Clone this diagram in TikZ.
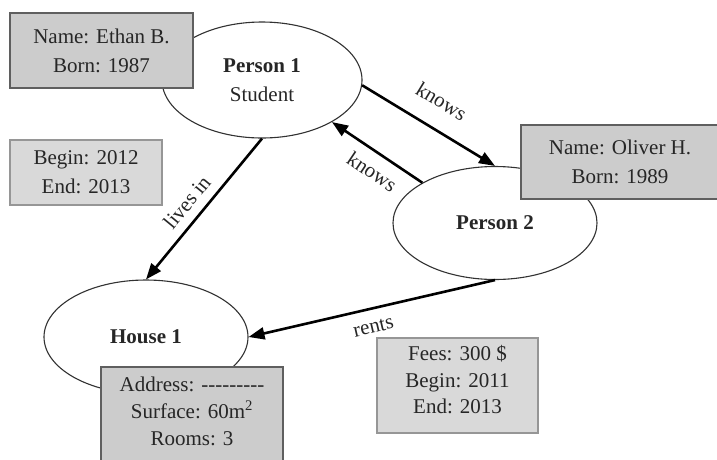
\documentclass[tikz,border=0pt]{standalone}
\usepackage{fontspec}
\setmainfont{Liberation Serif}
\usetikzlibrary{arrows.meta,shapes.geometric}
\definecolor{darkfill}{RGB}{204,204,204}
\definecolor{darkrule}{RGB}{95,95,95}
\definecolor{lightfill}{RGB}{217,217,217}
\definecolor{lightrule}{RGB}{150,150,150}
\definecolor{ellrule}{RGB}{50,50,50}
% a run of plain hyphens, kept apart so they never join into dashes
\newcommand{\hyphenrun}{-\kern0pt-\kern0pt-\kern0pt-\kern0pt-\kern0pt-\kern0pt-\kern0pt-\kern0pt-}
\begin{document}
\begin{tikzpicture}[x=1pt,y=-1pt,
  every node/.style={font=\fontsize{21}{29}\selectfont, text=black!85},
  entity/.style={ellipse, draw=ellrule, line width=1.1pt, fill=white, align=center, inner sep=0pt},
  propdark/.style={rectangle, draw=darkrule, line width=1.6pt, fill=darkfill, align=center, inner sep=0pt},
  proplight/.style={rectangle, draw=lightrule, line width=1.2pt, fill=lightfill, align=center, inner sep=0pt},
  rel/.style={line width=2.6pt, -{Triangle[length=16pt,width=12pt]}},
  rellabel/.style={sloped, inner sep=0pt}
]
\useasboundingbox (0,0) rectangle (717,459);
\fill[white] (0,0) rectangle (717,459);

% entities
\node[entity, minimum width=200pt, minimum height=116pt] (p1) at (262,80)
  {\textbf{Person 1}\\Student};
\node[entity, minimum width=204pt, minimum height=113pt] (p2) at (495,223)
  {\textbf{Person 2}};
\node[entity, minimum width=204pt, minimum height=114pt] (h1) at (146,337)
  {\textbf{House 1}};

% property boxes
\node[propdark, minimum width=183pt, minimum height=75pt] (p1props) at (101.5,50.5)
  {Name: Ethan B.\\Born: 1987};
\node[proplight, minimum width=152pt, minimum height=65pt] (livesprops) at (86,172.5)
  {Begin: 2012\\End: 2013};
\node[propdark, minimum width=198pt, minimum height=74pt] (p2props) at (620,162)
  {Name: Oliver H.\\Born: 1989};
\node[propdark, minimum width=182pt, minimum height=110pt] (h1props) at (192,422) {};
\node[font=\fontsize{21}{27}\selectfont, align=center, inner sep=0pt] (h1text) at (192,411)
  {Address: \hyphenrun\\Surface: 60m\textsuperscript{2}\\Rooms: 3};
\node[proplight, minimum width=161pt, minimum height=95pt] (rentbox) at (457.5,385.5) {};
\node[font=\fontsize{21}{26.5}\selectfont, align=center, inner sep=0pt] (renttext) at (457.5,380)
  {Fees: 300 \$\\Begin: 2011\\End: 2013};

% relations
\draw[rel] (p1.south) -- node[rellabel, above=9pt, pos=0.53] {lives in} (h1.north);
\draw[rel] (p1.-3) -- node[rellabel, above=19pt, pos=0.49] {knows} (p2.north);
\draw[rel] (p2.151) -- node[rellabel, below=10pt, pos=0.44] {knows} (p1.-31);
\draw[rel] (p2.south) -- node[rellabel, below=11pt, pos=0.51] {rents} (h1.east);
\end{tikzpicture}
\end{document}
